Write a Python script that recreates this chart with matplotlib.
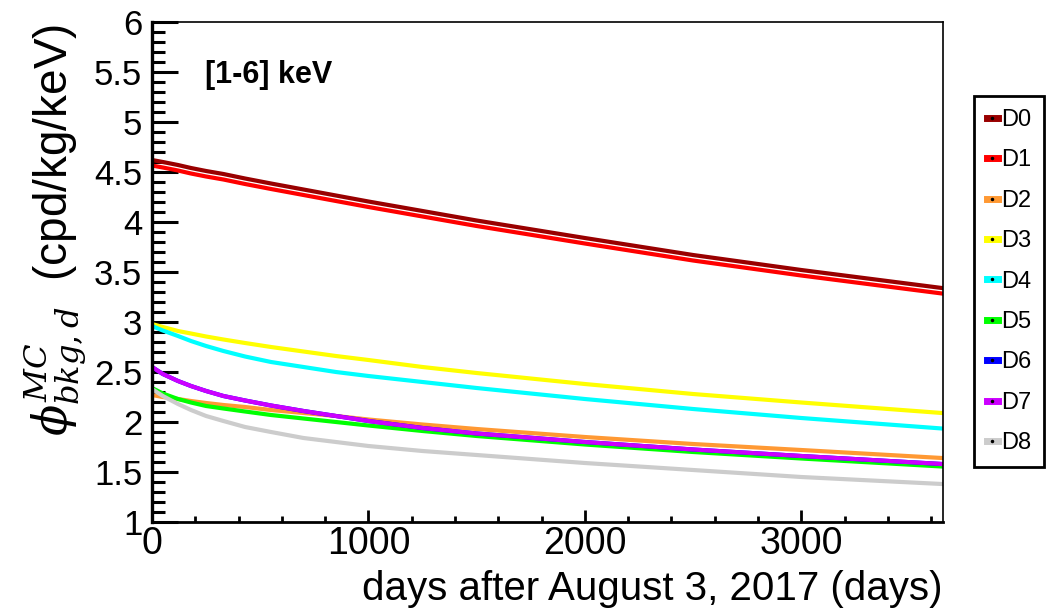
import matplotlib.pyplot as plt
from matplotlib.lines import Line2D
from matplotlib.ticker import MultipleLocator

plt.rcParams['font.family'] = ['Liberation Sans', 'DejaVu Sans']
plt.rcParams['mathtext.fontset'] = 'dejavuserif'

# days after August 3, 2017
days = [0, 50, 120, 180, 250, 330, 430, 550, 700, 850, 1000, 1250, 1500,
        2000, 2500, 3000, 3650]

# background rate per detector (cpd/kg/keV)
d0 = [4.62, 4.60, 4.57, 4.54, 4.51, 4.48, 4.435, 4.385, 4.325, 4.265, 4.205,
      4.11, 4.015, 3.84, 3.67, 3.52, 3.34]
d1 = [4.565, 4.545, 4.515, 4.485, 4.455, 4.425, 4.38, 4.33, 4.27, 4.21, 4.15,
      4.055, 3.96, 3.785, 3.615, 3.465, 3.285]
d2 = [2.27, 2.25, 2.23, 2.21, 2.19, 2.17, 2.15, 2.12, 2.09, 2.06, 2.025,
      1.975, 1.93, 1.85, 1.78, 1.72, 1.64]
d3 = [2.98, 2.95, 2.91, 2.885, 2.855, 2.825, 2.79, 2.75, 2.705, 2.66, 2.62,
      2.55, 2.49, 2.38, 2.28, 2.195, 2.09]
d4 = [2.96, 2.915, 2.86, 2.81, 2.76, 2.71, 2.655, 2.60, 2.55, 2.50, 2.46,
      2.40, 2.34, 2.23, 2.13, 2.04, 1.935]
d5 = [2.34, 2.285, 2.23, 2.195, 2.16, 2.135, 2.105, 2.07, 2.035, 2.00, 1.965,
      1.91, 1.86, 1.775, 1.70, 1.635, 1.555]
# D6 is hidden under D7 in the figure
d6 = [2.55, 2.48, 2.41, 2.36, 2.31, 2.26, 2.215, 2.165, 2.11, 2.06, 2.01,
      1.94, 1.885, 1.80, 1.725, 1.66, 1.58]
d7 = [2.55, 2.48, 2.41, 2.36, 2.31, 2.26, 2.215, 2.165, 2.11, 2.06, 2.01,
      1.94, 1.885, 1.80, 1.725, 1.66, 1.58]
d8 = [2.33, 2.26, 2.18, 2.12, 2.06, 2.01, 1.95, 1.90, 1.84, 1.80, 1.76,
      1.71, 1.67, 1.59, 1.52, 1.45, 1.38]

labels = ['D0', 'D1', 'D2', 'D3', 'D4', 'D5', 'D6', 'D7', 'D8']
series = [d0, d1, d2, d3, d4, d5, d6, d7, d8]
colors = ['#990000', '#ff0000', '#ff9933', '#ffff00', '#00ffff',
          '#00ff00', '#0000ff', '#cc00ff', '#cccccc']

fig = plt.figure(figsize=(10.48, 6.11), dpi=100)
ax = fig.add_axes([152 / 1048, 89 / 611, (943 - 152) / 1048, (522 - 22) / 611])

for y, c in zip(series, colors):
    ax.plot(days, y, color=c, lw=3, solid_joinstyle='round')

ax.set_xlim(0, 3655)
ax.set_ylim(1, 6)

ax.xaxis.set_major_locator(MultipleLocator(1000))
ax.xaxis.set_minor_locator(MultipleLocator(200))
ax.yaxis.set_major_locator(MultipleLocator(0.5))
ax.yaxis.set_minor_locator(MultipleLocator(0.1))
ax.yaxis.set_major_formatter(lambda v, p: f'{v:g}')

ax.tick_params(axis='y', which='major', direction='in', length=19, width=2.2,
               labelsize=25, pad=7)
ax.tick_params(axis='y', which='minor', direction='in', length=9.5, width=2.2)
ax.tick_params(axis='x', which='major', direction='in', length=9, width=2,
               labelsize=27, pad=3)
ax.tick_params(axis='x', which='minor', direction='in', length=4.5, width=2)

ax.spines['left'].set_linewidth(2.4)
ax.spines['bottom'].set_linewidth(2.0)
ax.spines['top'].set_linewidth(1.2)
ax.spines['right'].set_linewidth(1.2)

ax.set_xlabel('days after August 3, 2017 (days)', fontsize=29, loc='right',
              labelpad=6)
fig.text(55 / 1048, 1 - 24 / 611, r'$\phi^{MC}_{bkg,d}$  (cpd/kg/keV)',
         rotation=90, fontsize=33, ha='center', va='top')

ax.text(205 / 1048, 1 - 75 / 611, '[1-6] keV', transform=fig.transFigure,
        fontsize=22, fontweight='bold', va='center')

handles = [Line2D([], [], color=c, lw=5, marker='.', markersize=3,
                  markerfacecolor='black', markeredgecolor='black')
           for c in colors]
leg = fig.legend(handles, labels, loc='upper left',
                 bbox_to_anchor=(974 / 1048, 1 - 96 / 611),
                 fontsize=17, handlelength=0.45, handletextpad=0.15,
                 labelspacing=0.78, borderpad=0.55, borderaxespad=0,
                 fancybox=False, framealpha=1)
leg.get_frame().set_edgecolor('black')
leg.get_frame().set_linewidth(2)

fig.savefig('out.png', dpi=100)
